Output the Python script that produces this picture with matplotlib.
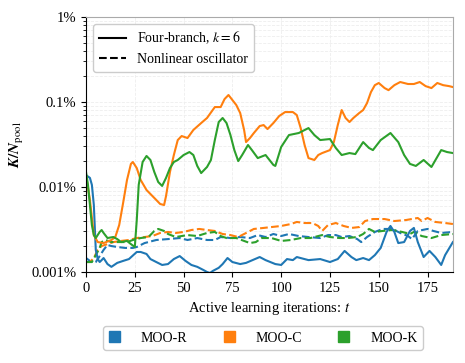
import matplotlib
matplotlib.use("Agg")
import matplotlib.pyplot as plt
from matplotlib.lines import Line2D
from matplotlib.patches import Patch
from matplotlib.ticker import FuncFormatter, LogLocator

plt.rcParams["font.family"] = ["Liberation Serif", "DejaVu Serif"]
plt.rcParams["mathtext.fontset"] = "stix"
plt.rcParams["font.size"] = 10

# K / N_pool in percent
# solid = four-branch (k=6), dashed = nonlinear oscillator
r_four_t = [0, 2, 3, 4, 5, 6, 7, 8, 9, 11, 13, 16, 19, 22, 26, 28, 31, 33, 36, 39, 42, 45, 48,
            51, 54, 57, 60, 62, 63.5, 65, 68, 70, 72.5, 75, 79, 82, 89, 92, 97, 100, 103, 106,
            108, 114, 120, 125, 129, 132.5, 136, 138.5, 142, 145, 148, 151, 154, 156, 158, 160,
            163, 166, 168, 170, 173, 176, 179, 182, 184, 188]
r_four = [0.0138, 0.0128, 0.0106, 0.00614, 0.00182, 0.00142, 0.00131, 0.00138, 0.00146, 0.00124,
          0.00115, 0.00128, 0.00135, 0.00142, 0.00172, 0.00172, 0.00163, 0.00142, 0.00131, 0.00121,
          0.00124, 0.00142, 0.00154, 0.00135, 0.00121, 0.00115, 0.00106, 0.001, 0.000973, 0.00103,
          0.00112, 0.00124, 0.00146, 0.00131, 0.00124, 0.00128, 0.00150, 0.00138, 0.00124, 0.00121,
          0.00142, 0.00138, 0.00150, 0.00138, 0.00142, 0.00131, 0.00142, 0.00177, 0.00150, 0.00138,
          0.00146, 0.00138, 0.00158, 0.00192, 0.00296, 0.00348, 0.00296, 0.00219, 0.00225, 0.00304,
          0.00330, 0.00225, 0.00150, 0.00177, 0.00150, 0.00121, 0.00158, 0.00225]

c_four_t = [0, 2, 4, 6, 9, 13, 15, 17, 19, 21, 23, 24, 26, 28, 31, 35, 38, 40, 41, 43, 45, 47, 49,
            52, 55, 59, 62, 66, 69, 71, 73, 75, 77, 79, 81, 82, 84, 86, 89, 91, 93, 96, 99, 102,
            106, 108, 110, 112, 114, 117, 119, 121, 125, 127, 129, 131, 133, 135, 137, 140, 142,
            144, 146, 148, 150, 153, 155, 158, 161, 165, 168, 171, 174, 177, 180, 183, 186, 188]
c_four = [0.0138, 0.00703, 0.00272, 0.00225, 0.00219, 0.00238, 0.00258, 0.00357, 0.00648, 0.0121,
          0.0187, 0.0197, 0.0167, 0.0121, 0.00922, 0.00743, 0.00631, 0.00614, 0.00783, 0.0150,
          0.0238, 0.0357, 0.0398, 0.0377, 0.0469, 0.0566, 0.0649, 0.0873, 0.0873, 0.1085, 0.121,
          0.1056, 0.0922, 0.0743, 0.0469, 0.0338, 0.0377, 0.0432, 0.0522, 0.0536, 0.0481, 0.0566,
          0.0685, 0.0762, 0.0762, 0.0703, 0.0494, 0.0312, 0.0219, 0.0208, 0.0238, 0.0251, 0.0272,
          0.0338, 0.0536, 0.0805, 0.0649, 0.0582, 0.0649, 0.0743, 0.0805, 0.0973, 0.131, 0.158,
          0.1675, 0.146, 0.138, 0.158, 0.172, 0.163, 0.163, 0.172, 0.154, 0.146, 0.1675, 0.158,
          0.154, 0.150]

k_four_t = [0, 1, 2, 3, 4, 5, 7, 8, 9, 11, 14, 16, 18, 21, 23, 25, 26, 27, 29, 31, 33, 35, 37, 39,
            41, 43, 45, 47, 50, 53, 55, 57, 59, 62, 64, 66, 68, 70, 72, 74, 76, 78, 80, 83, 85, 88,
            92, 96, 97, 100, 104, 109, 114, 117, 120, 125, 128, 131, 135, 138, 142, 145, 147, 151,
            156, 160, 163, 166, 169, 173, 177, 182, 185, 188]
k_four = [0.0150, 0.0106, 0.00614, 0.00357, 0.00272, 0.00251, 0.00296, 0.00312, 0.00288, 0.00251,
          0.00258, 0.00244, 0.00225, 0.00232, 0.00213, 0.00197, 0.00409, 0.0106, 0.0197, 0.0232,
          0.0208, 0.0150, 0.01145, 0.0103, 0.0128, 0.0167, 0.0197, 0.0208, 0.0238, 0.0258, 0.0238,
          0.0177, 0.0146, 0.0172, 0.0208, 0.0357, 0.0582, 0.0649, 0.0566, 0.0409, 0.0272, 0.0202,
          0.0238, 0.0312, 0.0272, 0.0219, 0.0238, 0.0182, 0.0177, 0.0296, 0.0409, 0.0432, 0.0494,
          0.0409, 0.0357, 0.0367, 0.0288, 0.0238, 0.0251, 0.0244, 0.0338, 0.0288, 0.0272, 0.0357,
          0.0432, 0.0338, 0.0238, 0.0187, 0.0177, 0.0208, 0.0172, 0.0272, 0.0258, 0.0251]

r_osc_t = [0, 2, 4, 5, 7, 9, 11, 13, 16, 20, 24, 26, 30, 36, 42, 48, 52, 57, 62, 66, 69, 74, 79,
           84, 88, 92, 96, 100, 104, 109, 114, 120, 124, 128, 131, 135, 139, 141, 144, 148, 152,
           157, 161, 165, 167, 170, 175, 178, 182, 188]
r_osc = [0.00146, 0.00135, 0.00128, 0.00131, 0.00154, 0.00182, 0.00208, 0.00202, 0.00197, 0.00192,
         0.00192, 0.00197, 0.00219, 0.00238, 0.00244, 0.00251, 0.00238, 0.00251, 0.00238, 0.00238,
         0.00258, 0.00251, 0.00258, 0.00251, 0.00272, 0.00258, 0.00280, 0.00265, 0.00280, 0.00265,
         0.00258, 0.00251, 0.00272, 0.00272, 0.00258, 0.00265, 0.00244, 0.00225, 0.00258, 0.00296,
         0.00321, 0.00321, 0.00288, 0.00265, 0.00244, 0.00304, 0.00321, 0.00304, 0.00288, 0.00296]

c_osc_t = [0, 2, 4, 6, 8, 11, 14, 18, 22, 26, 30, 34, 38, 42, 46, 50, 54, 58, 62, 66, 70, 74, 78,
           81, 86, 91, 95, 100, 105, 108, 112, 116, 119, 121, 124, 128, 132, 136, 140, 143, 147,
           153, 158, 164, 170, 172, 175, 179, 184, 188]
c_osc = [0.00131, 0.00131, 0.00146, 0.00182, 0.00202, 0.00213, 0.00225, 0.00232, 0.00238, 0.00251,
         0.00258, 0.00265, 0.00288, 0.00296, 0.00288, 0.00296, 0.00312, 0.00321, 0.00312, 0.00304,
         0.00280, 0.00272, 0.00258, 0.00280, 0.00321, 0.00330, 0.00338, 0.00348, 0.00367, 0.00388,
         0.00377, 0.00377, 0.00348, 0.00304, 0.00357, 0.00377, 0.00348, 0.00330, 0.00338, 0.00398,
         0.00420, 0.00420, 0.00398, 0.00409, 0.00432, 0.00398, 0.00432, 0.00388, 0.00377, 0.00367]

k_osc_t = [0, 3, 5, 7, 8, 10, 13, 17, 21, 24, 28, 32, 35, 37, 40, 42, 46, 52, 57, 62, 66, 69, 72,
           77, 81, 84, 87, 90, 95, 100, 105, 110, 115, 121, 125, 130, 134, 139, 142, 145, 148, 152,
           157, 162, 166, 168, 172, 177, 182, 188]
k_osc = [0.00131, 0.00131, 0.00158, 0.00192, 0.00225, 0.00238, 0.00225, 0.00225, 0.00225, 0.00238,
         0.00251, 0.00258, 0.00304, 0.00321, 0.00304, 0.00280, 0.00258, 0.00272, 0.00265, 0.00288,
         0.00296, 0.00265, 0.00251, 0.00251, 0.00232, 0.00219, 0.00225, 0.00251, 0.00251, 0.00232,
         0.00238, 0.00251, 0.00251, 0.00272, 0.00258, 0.00251, 0.00251, 0.00258, 0.00280, 0.00321,
         0.00296, 0.00304, 0.00312, 0.00296, 0.00280, 0.00296, 0.00265, 0.00251, 0.00272, 0.00280]

methods = ["MOO-R", "MOO-C", "MOO-K"]
colors = ["#1f77b4", "#ff7f0e", "#2ca02c"]

fig = plt.figure(figsize=(4.65, 3.63), dpi=100)
ax = fig.add_axes([0.185, 0.2507, 0.789, 0.7023])

series = [
    (r_osc_t, r_osc, colors[0], "--"),
    (c_osc_t, c_osc, colors[1], "--"),
    (k_osc_t, k_osc, colors[2], "--"),
    (r_four_t, r_four, colors[0], "-"),
    (c_four_t, c_four, colors[1], "-"),
    (k_four_t, k_four, colors[2], "-"),
]
for t, v, col, ls in series:
    ax.plot(t, v, color=col, linestyle=ls, linewidth=1.5)

ax.set_yscale("log")
ax.set_ylim(0.001, 1)
ax.set_xlim(0, 188)
ax.set_xticks(range(0, 176, 25))
ax.yaxis.set_major_locator(LogLocator(base=10))
ax.yaxis.set_minor_locator(LogLocator(base=10, subs=range(2, 10)))
ax.yaxis.set_major_formatter(FuncFormatter(lambda y, _: f"{y:g}%"))
ax.tick_params(labelsize=10.5)
ax.grid(True, which="both", color="#eeeeee", linestyle="--", linewidth=0.6)
ax.set_axisbelow(True)
for s in ["top", "right"]:
    ax.spines[s].set_color("#aaaaaa")

ax.set_xlabel("Active learning iterations: $t$", fontsize=10.5)
ax.set_ylabel(r"$\boldsymbol{K/N}_{\mathrm{pool}}$", fontsize=11)

style_handles = [Line2D([0], [0], color="black", linestyle="-", linewidth=1.5),
                 Line2D([0], [0], color="black", linestyle="--", linewidth=1.5)]
ax.legend(style_handles, ["Four-branch, $k=6$", "Nonlinear oscillator"],
          loc="upper left", fontsize=10, framealpha=1, edgecolor="#cccccc")

patches = [Patch(facecolor=c, edgecolor=c) for c in colors]
fig.legend(patches, methods, loc="center", bbox_to_anchor=(0.566, 0.069), ncol=3,
           handlelength=0.8, handleheight=0.8, handletextpad=1.5, columnspacing=2.6,
           fontsize=10, framealpha=1, edgecolor="#cccccc")

fig.savefig("out.png", dpi=100)
